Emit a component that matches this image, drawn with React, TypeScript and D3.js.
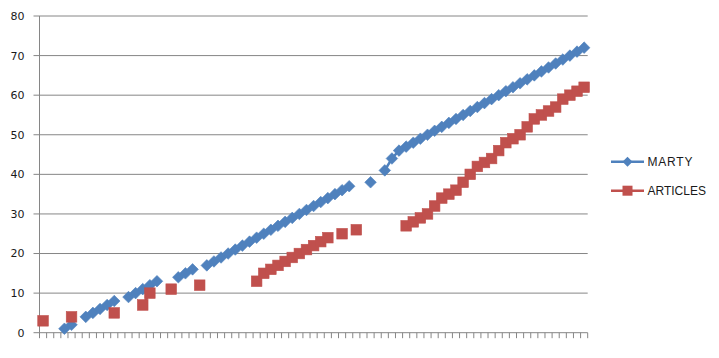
import React from "react";
import * as d3 from "d3";

const N = 77;
const categories: number[] = d3.range(N);

// MARTY values by category index (null = blank)
const martyEntries: [number, number][] = [
  [3, 1], [4, 2], [6, 4], [7, 5], [8, 6], [9, 7], [10, 8],
  [12, 9], [13, 10], [14, 11], [15, 12], [16, 13],
  [19, 14], [20, 15], [21, 16],
  [23, 17], [24, 18], [25, 19], [26, 20], [27, 21], [28, 22], [29, 23], [30, 24],
  [31, 25], [32, 26], [33, 27], [34, 28], [35, 29], [36, 30], [37, 31], [38, 32],
  [39, 33], [40, 34], [41, 35], [42, 36], [43, 37],
  [46, 38], [48, 41], [49, 44],
  [50, 46], [51, 47], [52, 48], [53, 49], [54, 50], [55, 51], [56, 52], [57, 53],
  [58, 54], [59, 55], [60, 56], [61, 57], [62, 58], [63, 59], [64, 60], [65, 61],
  [66, 62], [67, 63], [68, 64], [69, 65], [70, 66], [71, 67], [72, 68], [73, 69],
  [74, 70], [75, 71], [76, 72],
];

const articlesEntries: [number, number][] = [
  [0, 3], [4, 4], [10, 5], [14, 7], [15, 10], [18, 11], [22, 12],
  [30, 13], [31, 15], [32, 16], [33, 17], [34, 18], [35, 19], [36, 20], [37, 21],
  [38, 22], [39, 23], [40, 24], [42, 25], [44, 26],
  [51, 27], [52, 28], [53, 29], [54, 30], [55, 32], [56, 34], [57, 35], [58, 36],
  [59, 38], [60, 40], [61, 42], [62, 43], [63, 44], [64, 46], [65, 48], [66, 49],
  [67, 50], [68, 52], [69, 54], [70, 55], [71, 56], [72, 57], [73, 59], [74, 60],
  [75, 61], [76, 62],
];

const yTicks: number[] = [0, 10, 20, 30, 40, 50, 60, 70, 80];
const seriesNames: string[] = ["MARTY", "ARTICLES"];
const seriesColors: string[] = ["#4F81BD", "#C0504D"];

function toArray(entries: [number, number][]): (number | null)[] {
  const arr: (number | null)[] = new Array(N).fill(null);
  entries.forEach(([i, v]) => (arr[i] = v));
  return arr;
}

const marty = toArray(martyEntries);
const articles = toArray(articlesEntries);

export default function App() {
  const W = 719, H = 358;
  const x0 = 39.5, x1 = 587.7;
  const yTop = 16, yBot = 332.7;
  const x = d3.scaleBand<number>().domain(categories).range([x0, x1]).padding(0);
  const y = d3.scaleLinear().domain([0, 80]).range([yBot, yTop]);
  const cx = (i: number) => (x(i) as number) + x.bandwidth() / 2;
  const line = d3
    .line<number | null>()
    .defined((d) => d != null)
    .x((_, i) => cx(i))
    .y((d) => y(d as number));

  const grid = "#868686";
  const diamond = (px: number, py: number, r: number) =>
    `M${px},${py - r}L${px + r},${py}L${px},${py + r}L${px - r},${py}Z`;
  const sq = 5.3;
  const dr = 5.8;

  const tickBounds = d3.range(N + 1).map((i) => x0 + i * x.bandwidth());

  return (
    <svg
      width={W}
      height={H}
      style={{ position: "absolute", left: 0, top: 0, background: "#fff" }}
    >
      {yTicks.map((t) => (
        <g key={t}>
          <line x1={x0 - 6} x2={x1} y1={y(t)} y2={y(t)} stroke={grid} strokeWidth={1} />
          <text
            x={24.5}
            y={y(t)}
            dy="0.36em"
            textAnchor="end"
            fontFamily="DejaVu Sans, sans-serif"
            fontSize={11}
            fill="#1a1a1a"
          >
            {t}
          </text>
        </g>
      ))}
      <line x1={x0} x2={x0} y1={yTop} y2={yBot} stroke={grid} strokeWidth={1} />
      {tickBounds.map((tx, i) => (
        <line key={i} x1={tx} x2={tx} y1={yBot} y2={yBot + 5.5} stroke={grid} strokeWidth={1} />
      ))}

      {/* MARTY */}
      <path d={line(marty) || ""} fill="none" stroke={seriesColors[0]} strokeWidth={2.5} />
      {marty.map((v, i) =>
        v == null ? null : (
          <path key={"m" + i} d={diamond(cx(i), y(v), dr)} fill={seriesColors[0]} stroke={seriesColors[0]} strokeWidth={0.6} />
        )
      )}

      {/* ARTICLES */}
      <path d={line(articles) || ""} fill="none" stroke={seriesColors[1]} strokeWidth={2.5} />
      {articles.map((v, i) =>
        v == null ? null : (
          <rect key={"a" + i} x={cx(i) - sq} y={y(v) - sq} width={sq * 2} height={sq * 2} fill={seriesColors[1]} stroke={seriesColors[1]} strokeWidth={0.6} />
        )
      )}

      {/* Legend */}
      {seriesNames.map((name, k) => {
        const ly = 161.7 + k * 29;
        const lx0 = 611, lx1 = 644;
        const mx = (lx0 + lx1) / 2;
        return (
          <g key={name}>
            <line x1={lx0} x2={lx1} y1={ly} y2={ly} stroke={seriesColors[k]} strokeWidth={2.5} />
            {k === 0 ? (
              <path d={diamond(mx, ly, 5)} fill={seriesColors[0]} />
            ) : (
              <rect x={mx - 5} y={ly - 5} width={10} height={10} fill={seriesColors[1]} />
            )}
            <text
              x={647.5}
              y={ly}
              dy="0.36em"
              fontFamily="Liberation Sans, Arial, sans-serif"
              fontSize={12}
              fill="#1a1a1a"
              letterSpacing={k === 0 ? 0.8 : 0}
            >
              {name}
            </text>
          </g>
        );
      })}
    </svg>
  );
}
